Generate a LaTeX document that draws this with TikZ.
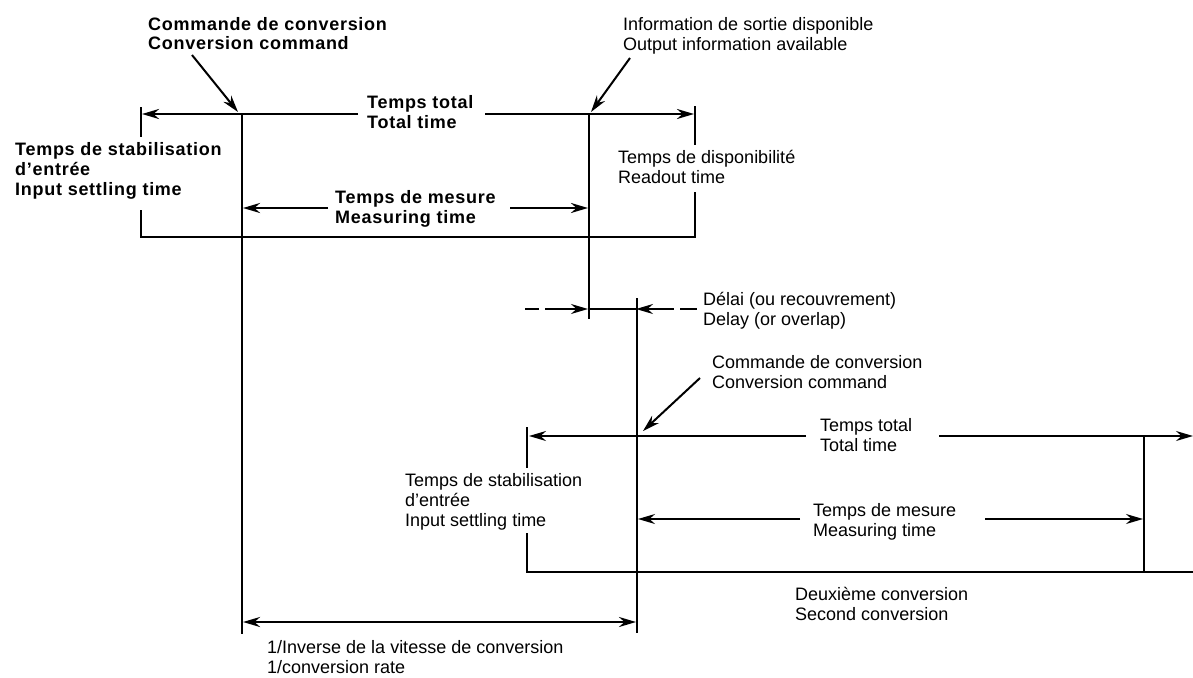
\documentclass[tikz,border=0pt]{standalone}
\usepackage{fontspec}
\setmainfont{Liberation Sans}
\usetikzlibrary{arrows.meta}
\begin{document}
\begin{tikzpicture}[x=1pt,y=-1pt,
  lbl/.style={anchor=base west, inner sep=0pt, align=left, font=\fontsize{18}{20}\selectfont},
  blbl/.style={anchor=base west, inner sep=0pt, align=left, font=\fontsize{18}{20}\selectfont\bfseries\addfontfeatures{LetterSpace=4}},
  boxline/.style={line width=2.4pt},
  vline/.style={line width=2pt},
  subline/.style={line width=1.6pt},
  arr/.style={-{Stealth[length=17pt,width=10pt]}},
  darr/.style={{Stealth[length=17pt,width=10pt]}-{Stealth[length=17pt,width=10pt]}},
  ptr/.style={line width=2pt,-{Stealth[length=17pt,width=10pt]}},
]
\useasboundingbox (0,0) rectangle (1193,677);

% ---------- texts (anchor = baseline of the last line) ----------
\node[blbl] (cmd1) at (148,50) {Commande de conversion\\Conversion command};
\node[lbl]  (out1) at (623,51) {Information de sortie disponible\\Output information available};
\node[blbl] (tot1) at (367,128) {Temps total\\Total time};
\node[blbl] (mes1) at (335,223) {Temps de mesure\\Measuring time};
\node[blbl] (stb1) at (15,195) {Temps de stabilisation\\d'entrée\\Input settling time};
\node[lbl]  (rdo1) at (618,183) {Temps de disponibilité\\Readout time};
\node[lbl]  (dly)  at (703,325) {Délai (ou recouvrement)\\Delay (or overlap)};
\node[lbl]  (cmd2) at (712,388) {Commande de conversion\\Conversion command};
\node[lbl]  (tot2) at (820,451) {Temps total\\Total time};
\node[lbl]  (stb2) at (405,526) {Temps de stabilisation\\d'entrée\\Input settling time};
\node[lbl]  (mes2) at (813,536) {Temps de mesure\\Measuring time};
\node[lbl]  (sec)  at (795,620) {Deuxième conversion\\Second conversion};
\node[lbl]  (inv)  at (267,673) {1/Inverse de la vitesse de conversion\\1/conversion rate};

% ---------- coordinates ----------
\coordinate (L1t) at (141,107); \coordinate (L1a) at (141,137);
\coordinate (L1b) at (141,210); \coordinate (L1c) at (141,236.5);
\coordinate (C1t) at (242,114); \coordinate (C1b) at (242,634);
\coordinate (O1t) at (589,114); \coordinate (O1b) at (589,319);
\coordinate (R1t) at (695,106); \coordinate (R1a) at (695,145);
\coordinate (R1b) at (695,192); \coordinate (R1c) at (695,236.5);
\coordinate (T1l) at (142,114); \coordinate (T1a) at (358,114);
\coordinate (T1b) at (485,114); \coordinate (T1r) at (694,114);
\coordinate (M1a) at (328,208); \coordinate (M1l) at (243,208);
\coordinate (M1b) at (510,208); \coordinate (M1r) at (588,208);

\coordinate (D0) at (525,309); \coordinate (D1) at (556,309);
\coordinate (D2) at (588,309); \coordinate (D3) at (636,309);
\coordinate (D4) at (668,309); \coordinate (D5) at (697,309);

\coordinate (C2t) at (637,298); \coordinate (C2b) at (637,633);
\coordinate (L2t) at (527,427); \coordinate (L2a) at (527,468);
\coordinate (L2b) at (527,533); \coordinate (L2c) at (527,572);
\coordinate (B2r) at (1193,572);
\coordinate (R2t) at (1144,436); \coordinate (R2b) at (1144,572);
\coordinate (T2l) at (529,436); \coordinate (T2a) at (806,436);
\coordinate (T2b) at (939,436); \coordinate (T2r) at (1193,436);
\coordinate (M2a) at (800,519); \coordinate (M2l) at (638,519);
\coordinate (M2b) at (985,519); \coordinate (M2r) at (1143,519);

\coordinate (V1) at (243,622); \coordinate (V2) at (636,622);

\coordinate (P1s) at (192,55); \coordinate (P1e) at (238,112);
\coordinate (P2s) at (630,58); \coordinate (P2e) at (591,112);
\coordinate (P3s) at (700,378); \coordinate (P3e) at (643,431);

% ---------- first conversion ----------
\draw[vline] (L1t) -- (L1a);
\draw[vline] (L1b) -- (L1c) -- (R1c) -- (R1b);
\draw[vline] (R1t) -- (R1a);
\draw[vline] (C1t) -- (C1b);
\draw[vline] (O1t) -- (O1b);
\draw[boxline,arr] (T1a) -- (T1l);
\draw[boxline,arr] (T1b) -- (T1r);
\draw[boxline,arr] (M1a) -- (M1l);
\draw[boxline,arr] (M1b) -- (M1r);

% ---------- delay ----------
\draw[subline,dash pattern=on 14pt off 6pt] (D0) -- (D1);
\draw[subline,arr] (D1) -- (D2);
\draw[subline] (D2) -- (D3);
\draw[subline,arr] (D4) -- (D3);
\draw[subline,dash pattern=on 6pt off 6pt on 20pt off 0pt] (D4) -- (D5);

% ---------- second conversion ----------
\draw[vline] (C2t) -- (C2b);
\draw[vline] (L2t) -- (L2a);
\draw[vline] (L2b) -- (L2c) -- (B2r);
\draw[subline] (R2t) -- (R2b);
\draw[subline,arr] (T2a) -- (T2l);
\draw[subline,arr] (T2b) -- (T2r);
\draw[subline,arr] (M2a) -- (M2l);
\draw[subline,arr] (M2b) -- (M2r);

% ---------- conversion period ----------
\draw[boxline,darr] (V1) -- (V2);

% ---------- pointers ----------
\draw[ptr] (P1s) -- (P1e);
\draw[ptr] (P2s) -- (P2e);
\draw[ptr] (P3s) -- (P3e);
\end{tikzpicture}
\end{document}
